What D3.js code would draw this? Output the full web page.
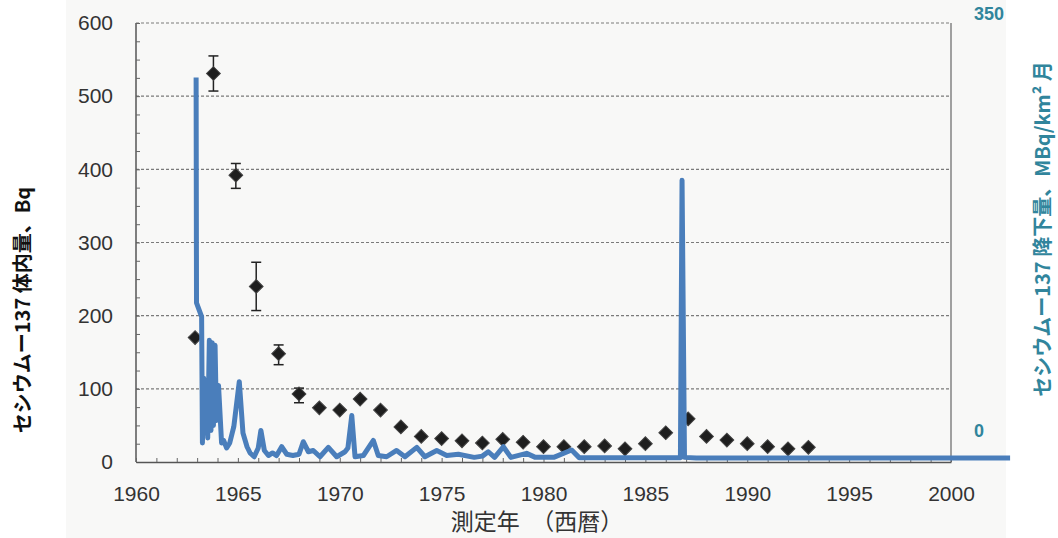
<!DOCTYPE html>
<html>
<head>
<meta charset="utf-8">
<script src="https://cdn.jsdelivr.net/npm/d3@7"></script>
<style>
  html, body { margin: 0; padding: 0; background: #ffffff; }
  svg { display: block; }
</style>
</head>
<body>
<svg id="chart" width="1058" height="538"></svg>
<script>
// ---------- data ----------
const xTickLabels = [1960, 1965, 1970, 1975, 1980, 1985, 1990, 1995, 2000];
const leftTickLabels = [0, 100, 200, 300, 400, 500, 600];
const rightTickLabels = [0, 350];

// body content of Cs-137 (Bq), black diamonds
const bodyYears  = [1962.9, 1963.8, 1964.9, 1965.9, 1967.0, 1968.0, 1969.0, 1970.0, 1971.0, 1972.0,
                    1973.0, 1974.0, 1975.0, 1976.0, 1977.0, 1978.0, 1979.0, 1980.0, 1981.0, 1982.0,
                    1983.0, 1984.0, 1985.0, 1986.0, 1987.1, 1988.0, 1989.0, 1990.0, 1991.0, 1992.0, 1993.0];
const bodyValues = [170, 531, 392, 240, 148, 93, 74, 71, 86, 71,
                    48, 35, 32, 29, 26, 31, 27, 21, 21, 21,
                    22, 18, 25, 40, 59, 35, 30, 25, 21, 18, 20];
const errYears = [1963.8, 1964.9, 1965.9, 1967.0, 1968.0];
const errLow   = [507, 374, 207, 133, 81];
const errHigh  = [555, 408, 273, 160, 101];

// monthly Cs-137 fallout (MBq/km2 per month), blue line
const fallYears  = [1962.95, 1962.97, 1963.22, 1963.26, 1963.32, 1963.40, 1963.46, 1963.52, 1963.60, 1963.68,
                    1963.74, 1963.80, 1963.88, 1963.95, 1964.05, 1964.20, 1964.30, 1964.45, 1964.60, 1964.80,
                    1965.07, 1965.25, 1965.45, 1965.60, 1965.80, 1966.00, 1966.13, 1966.30, 1966.50, 1966.70,
                    1966.90, 1967.15, 1967.40, 1967.70, 1968.00, 1968.21, 1968.46, 1968.70, 1969.03, 1969.44,
                    1969.85, 1970.26, 1970.40, 1970.59, 1970.75, 1971.16, 1971.65, 1971.89, 1972.30, 1972.79,
                    1973.20, 1973.78, 1974.18, 1974.76, 1975.25, 1975.82, 1976.60, 1977.00, 1977.29, 1977.60,
                    1978.03, 1978.40, 1979.17, 1979.60, 1980.50, 1981.38, 1981.75, 1984.00, 1986.72, 1986.80,
                    1986.92, 1987.50, 2002.90];
const fallValues = [304, 124, 113, 12, 64, 20, 62, 16, 94, 22,
                    92, 26, 90, 30, 58, 12, 14, 8, 12, 25,
                    61, 20, 9, 4, 1, 8, 22, 6, 2, 4,
                    2, 9, 3, 2, 3, 13, 5, 6, 1, 8.5,
                    1, 5, 8, 34, 1, 2, 14, 2, 1, 6,
                    1, 8.5, 1, 6, 2, 3, 0.5, 1.5, 5, 0.5,
                    9, 0.5, 3.7, 0.5, 0.5, 6.4, 0.3, 0.2, 0.2, 222,
                    0.5, 0, 0];

// ---------- layout ----------
const svg = d3.select("#chart");
const X0 = 136, X1 = 951, YB = 462, YT = 23;
const blueColor = "#4a7ebb", tealColor = "#31859c";

const x  = d3.scaleLinear().domain([1960, 2000]).range([X0, X1]);
const yL = d3.scaleLinear().domain([0, 600]).range([YB, YT]);
const yR = d3.scaleLinear().domain([0, 350]).range([458, 20]);

// scanned paper background
svg.append("rect").attr("x", 66).attr("y", 0).attr("width", 940).attr("height", 538)
  .attr("fill", "#f8f8f7");

// gridlines (dashed)
svg.append("g")
  .selectAll("line").data([100, 200, 300, 400, 500, 600]).join("line")
  .attr("x1", X0).attr("x2", X1)
  .attr("y1", d => yL(d)).attr("y2", d => yL(d))
  .attr("stroke", "#7a7a7a").attr("stroke-width", 1.1).attr("stroke-dasharray", "3,2");

// frame left / right
svg.append("line").attr("x1", X0).attr("x2", X0).attr("y1", YT).attr("y2", YB)
  .attr("stroke", "#4a4a4a").attr("stroke-width", 1.4);
svg.append("line").attr("x1", X1).attr("x2", X1).attr("y1", YT).attr("y2", YB)
  .attr("stroke", "#666").attr("stroke-width", 1.2);

// left axis
const leftAxis = svg.append("g").attr("transform", `translate(${X0},0)`)
  .call(d3.axisLeft(yL).tickValues(leftTickLabels).tickSize(0).tickPadding(23));
leftAxis.select(".domain").remove();
leftAxis.selectAll("text").attr("font-family", "Liberation Sans, Arial, sans-serif")
  .attr("font-size", 21).attr("fill", "#333");
// minor ticks on left axis
svg.append("g").attr("transform", `translate(${X0},0)`)
  .call(d3.axisRight(yL).tickValues(d3.range(0, 601, 25)).tickSize(4).tickFormat(""))
  .call(g => g.select(".domain").remove())
  .selectAll("line").attr("stroke", "#666");

// bottom axis
const bottomAxis = svg.append("g").attr("transform", `translate(0,${YB})`)
  .call(d3.axisBottom(x).tickValues(xTickLabels).tickSize(0).tickPadding(24).tickFormat(d3.format("d")));
bottomAxis.select(".domain").attr("stroke", "#555").attr("stroke-width", 1.4);
bottomAxis.selectAll("text").attr("font-family", "Liberation Sans, Arial, sans-serif")
  .attr("font-size", 21).attr("fill", "#333");
// yearly minor ticks
svg.append("g").attr("transform", `translate(0,${YB})`)
  .call(d3.axisTop(x).tickValues(d3.range(1960, 2001, 1)).tickSize(4).tickFormat(""))
  .call(g => g.select(".domain").remove())
  .selectAll("line").attr("stroke", "#666");

// x-axis title
svg.append("text").attr("x", 537).attr("y", 530).attr("text-anchor", "middle")
  .attr("font-family", "Noto Sans CJK JP, sans-serif").attr("font-size", 23).attr("fill", "#333")
  .text("測定年　（西暦）");

// left title
svg.append("text").attr("transform", "translate(30,310) rotate(-90)")
  .attr("text-anchor", "middle")
  .attr("font-family", "Noto Sans CJK JP, sans-serif").attr("font-weight", "bold")
  .attr("font-size", 20).attr("fill", "#111")
  .text("セシウムー137 体内量、Bq");

// right axis labels
const rightAxis = svg.append("g").attr("transform", `translate(972,0)`)
  .call(d3.axisRight(yR).tickValues(rightTickLabels).tickSize(0).tickPadding(2));
rightAxis.select(".domain").remove();
rightAxis.selectAll("text")
  .attr("font-family", "Liberation Sans, Arial, sans-serif").attr("font-weight", "bold")
  .attr("font-size", 18).attr("fill", tealColor)
  .attr("dy", d => d === 0 ? "-1.2em" : "-0.05em");

// right title
svg.append("text").attr("transform", "translate(1050,229) rotate(-90)")
  .attr("text-anchor", "middle")
  .attr("font-family", "Noto Sans CJK JP, sans-serif").attr("font-weight", "bold")
  .attr("font-size", 20).attr("fill", tealColor)
  .text("セシウムー137 降下量、MBq/km² 月");

// error bars
const eb = svg.append("g").attr("stroke", "#222").attr("stroke-width", 1.5);
errYears.forEach((yr, i) => {
  const cx = x(yr);
  eb.append("line").attr("x1", cx).attr("x2", cx).attr("y1", yL(errLow[i])).attr("y2", yL(errHigh[i]));
  eb.append("line").attr("x1", cx - 5).attr("x2", cx + 5).attr("y1", yL(errLow[i])).attr("y2", yL(errLow[i]));
  eb.append("line").attr("x1", cx - 5).attr("x2", cx + 5).attr("y1", yL(errHigh[i])).attr("y2", yL(errHigh[i]));
});

// diamonds
const diamond = d3.symbol().type(d3.symbolSquare).size(95);
svg.append("g").selectAll("path").data(bodyYears.map((yr, i) => [yr, bodyValues[i]])).join("path")
  .attr("d", diamond)
  .attr("transform", d => `translate(${x(d[0])},${yL(d[1])}) rotate(45)`)
  .attr("fill", "#1e1e1e").attr("stroke", "#444").attr("stroke-width", 1);

// fallout line
const line = d3.line().x(d => x(d[0])).y(d => yR(d[1]));
svg.append("path").datum(fallYears.map((yr, i) => [yr, fallValues[i]]))
  .attr("d", line).attr("fill", "none")
  .attr("stroke", blueColor).attr("stroke-width", 5).attr("stroke-linejoin", "round");
</script>
</body>
</html>
